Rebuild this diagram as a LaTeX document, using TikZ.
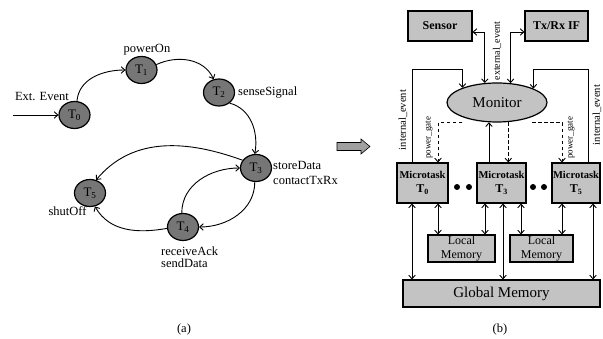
\documentclass[tikz,border=0pt]{standalone}
\usepackage{fontspec}
\setmainfont{Liberation Serif}
\usetikzlibrary{arrows.meta,shapes.geometric,calc}
\definecolor{stategray}{RGB}{118,118,118}
\definecolor{boxgray}{RGB}{195,195,195}
\definecolor{arrowgray}{RGB}{160,160,160}
\begin{document}
\begin{tikzpicture}[x=1pt,y=1pt,
  >={Straight Barb[length=3.5pt,width=6.5pt]},
  state/.style={ellipse,draw,line width=1.2pt,fill=stategray,minimum width=31pt,minimum height=27pt,inner sep=0pt,font=\fontsize{13}{13}\selectfont},
  lbl/.style={font=\fontsize{12.5}{15}\selectfont,inner sep=0pt,align=left},
  edge/.style={->,line width=0.9pt},
  blk/.style={draw,line width=1.2pt,fill=boxgray,inner sep=0pt},
  mtask/.style={blk,minimum height=40pt,align=center,font=\bfseries\fontsize{10.5}{14}\selectfont},
  lmem/.style={blk,minimum height=27pt,align=center,font=\fontsize{12}{13.5}\selectfont},
  rot/.style={rotate=90,inner sep=0pt},
  conn/.style={line width=0.9pt},
  dashconn/.style={line width=0.9pt,dash pattern=on 3.5pt off 2.5pt},
  dotnode/.style={circle,fill=black,inner sep=0pt,minimum size=6pt},
]
\useasboundingbox (0,0) rectangle (603,339);

% ---------- (a) ----------
\node[state] (T0) at (74.5,224) {T\textsubscript{0}};
\node[state] (T1) at (141.5,269) {T\textsubscript{1}};
\node[state] (T2) at (219,246.5) {T\textsubscript{2}};
\node[state] (T3) at (256,171) {T\textsubscript{3}};
\node[state] (T5) at (90,146) {T\textsubscript{5}};
\node[state] (T4) at (183,112) {T\textsubscript{4}};

\node[lbl] (ext) at (42,242) {Ext. Event};
\node[lbl] (pon) at (147,289) {powerOn};
\node[lbl,anchor=west] (sen) at (238,246.5) {senseSignal};
\node[lbl,anchor=west] (sto) at (273,166.5) {storeData\\contactTxRx};
\node[lbl] (shut) at (67.5,128) {shutOff};
\node[lbl,anchor=west,font=\fontsize{12.5}{12.5}\selectfont] (rec) at (161,82) {receiveAck\\sendData};
\node[lbl] (capa) at (184,10) {(a)};

\coordinate (in) at (13,224);
\draw[edge] (in) -- (T0.west);
\draw[edge] (T0.80) to[out=85,in=180] (T1.west);
\draw[edge] (T1.20) to[out=25,in=115] (T2.112);
\draw[edge] (T2.-45) to[out=-15,in=80] (T3.95);
\draw[edge] (T3.150) to[out=160,in=50] (T5.65);
\draw[edge] (T4.95) to[out=90,in=180] (T3.west);
\draw[edge] (T3.265) to[out=-90,in=0] (T4.east);
\draw[edge] (T4.185) to[out=190,in=-60] (T5.-70);

% big arrow
\draw[fill=arrowgray,line width=0.6pt] (337,188.5) -- (361,188.5) -- (361,185) -- (370,192.5) -- (361,200) -- (361,196.5) -- (337,196.5) -- cycle;

% ---------- (b) ----------
\node[blk,minimum width=64pt,minimum height=30pt,font=\bfseries\fontsize{12}{12}\selectfont] (S) at (440,313) {Sensor};
\node[blk,minimum width=63pt,minimum height=30pt,font=\bfseries\fontsize{12}{12}\selectfont] (X) at (556.5,313) {Tx/Rx IF};
\node[ellipse,draw,line width=1.2pt,fill=boxgray,minimum width=100pt,minimum height=39pt,inner sep=0pt,font=\fontsize{15}{15}\selectfont] (M) at (497,236.5) {Monitor};

\node[mtask,minimum width=51pt] (M0) at (422.5,156) {Microtask\\{\fontsize{12}{14}\selectfont T\textsubscript{0}}};
\node[mtask,minimum width=49pt] (M3) at (501.5,156) {Microtask\\{\fontsize{12}{14}\selectfont T\textsubscript{3}}};
\node[mtask,minimum width=48pt] (M5) at (576,156) {Microtask\\{\fontsize{12}{14}\selectfont T\textsubscript{5}}};

\node[dotnode] (d1) at (457,152) {};
\node[dotnode] (d2) at (469,152) {};
\node[dotnode] (d3) at (533,152) {};
\node[dotnode] (d4) at (544,152) {};

\node[lmem,minimum width=67pt] (L1) at (461.5,90.5) {Local\\Memory};
\node[lmem,minimum width=63pt] (L2) at (541.5,90.5) {Local\\Memory};
\node[blk,minimum width=197pt,minimum height=27pt,font=\fontsize{15}{15}\selectfont] (G) at (501.5,45.5) {Global Memory};

\node[lbl] (capb) at (500,10) {(b)};

% sensor / txrx links
\draw[conn,<->] ([yshift=-6pt]S.east) -| (M.122.4);
\draw[conn,<->] ([yshift=-6pt]X.west) -| (M.55.4);
\node[rot,font=\fontsize{10}{10}\selectfont] (ee) at (497,288) {external\_event};

% internal events
\draw[conn,->] ([xshift=-10.5pt]M0.north) -- ++(0,93) -| (M.157.2);
\draw[conn,->] ([xshift=12pt]M5.north) -- ++(0,93) -| (M.21.7);
\node[rot,font=\fontsize{10.5}{10.5}\selectfont] (ie1) at (403,219) {internal\_event};
\node[rot,font=\fontsize{10.5}{10.5}\selectfont] (ie2) at (597,224) {internal\_event};

% power gates
\draw[dashconn,->] ([xshift=-35pt]M.south) -| ([xshift=15.5pt]M0.north);
\draw[dashconn,->] ([xshift=35pt]M.south) -| ([xshift=-14pt]M5.north);
\draw[dashconn,->] (M.-60) -- (M.-60 |- M3.north);
\draw[conn,->] (M.-112.6 |- M3.north) -- (M.-112.6);
\node[rot,font=\fontsize{9}{9}\selectfont] (pg1) at (429,201) {power\_gate};
\node[rot,font=\fontsize{9}{9}\selectfont] (pg2) at (571,201) {power\_gate};

% memories
\draw[conn,<->] ([xshift=-10.5pt]M0.south) -- ([xshift=-10.5pt]M0.south |- G.north);
\draw[conn,<->] ([xshift=15.5pt]M0.south) -- ([xshift=15.5pt]M0.south |- L1.north);
\draw[conn,<->] ([xshift=-16.5pt]M3.south) -- ([xshift=-16.5pt]M3.south |- L1.north);
\draw[conn,<->] ([xshift=1.5pt]M3.south) -- ([xshift=1.5pt]M3.south |- G.north);
\draw[conn,<->] ([xshift=19.5pt]M3.south) -- ([xshift=19.5pt]M3.south |- L2.north);
\draw[conn,<->] ([xshift=-14pt]M5.south) -- ([xshift=-14pt]M5.south |- L2.north);
\draw[conn,<->] ([xshift=17pt]M5.south) -- ([xshift=17pt]M5.south |- G.north);
\end{tikzpicture}
\end{document}
